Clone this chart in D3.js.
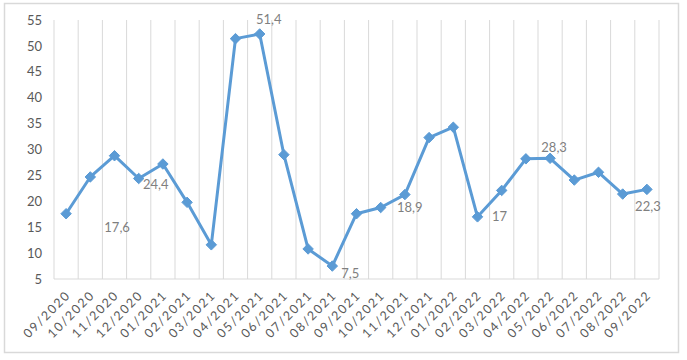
<!DOCTYPE html>
<html><head><meta charset="utf-8">
<script src="https://cdn.jsdelivr.net/npm/d3@7"></script>
<style>body{margin:0;background:#fff;} svg{display:block;}</style>
</head><body>
<svg id="chart" width="687" height="360"></svg>
<script>
const categories = ["09/2020","10/2020","11/2020","12/2020","01/2021","02/2021","03/2021","04/2021","05/2021","06/2021","07/2021","08/2021","09/2021","10/2021","11/2021","12/2021","01/2022","02/2022","03/2022","04/2022","05/2022","06/2022","07/2022","08/2022","09/2022"];
const values = [17.6,24.7,28.8,24.4,27.2,19.8,11.6,51.4,52.3,29.0,10.8,7.5,17.6,18.8,21.3,32.3,34.3,17.0,22.1,28.2,28.3,24.1,25.6,21.4,22.3];
const yTicks = [5,10,15,20,25,30,35,40,45,50,55];
const labelTexts = ["17,6","24,4","51,4","7,5","18,9","17","28,3","22,3"];
const labelPointIndex = [0,3,8,11,13,17,20,24];
const labelDx = [51,17,9,18,29,22,4,1];
const labelDy = [14,6,-15,7,0,0,-11,17];

const svg = d3.select("#chart");
const font = "Lato, 'Open Sans', sans-serif";
const textColor = "#595959";
const gridColor = "#d9d9d9";
const margin = {left:54, right:28, top:20, bottom:81};
const W = 687, H = 360;

svg.append("rect").attr("x",4.5).attr("y",3.5).attr("width",674).attr("height",349)
  .attr("fill","#fff").attr("stroke",gridColor).attr("stroke-width",1.5);

const x = d3.scaleBand().domain(categories).range([margin.left, W - margin.right]).paddingInner(0).paddingOuter(0);
const y = d3.scaleLinear().domain([5,55]).range([H - margin.bottom, margin.top]);

// vertical gridlines at category boundaries
const bounds = categories.map(c => x(c)).concat([x(categories[categories.length-1]) + x.bandwidth()]);
svg.append("g").selectAll("line").data(bounds).join("line")
  .attr("x1", d => d).attr("x2", d => d)
  .attr("y1", y(55)).attr("y2", y(5))
  .attr("stroke", gridColor).attr("stroke-width", 1);

// bottom axis line
svg.append("line").attr("x1", margin.left).attr("x2", W - margin.right)
  .attr("y1", y(5)).attr("y2", y(5)).attr("stroke", gridColor).attr("stroke-width", 1);

// y axis labels
const yAxis = d3.axisLeft(y).tickValues(yTicks).tickSize(0).tickPadding(12);
const gy = svg.append("g").attr("transform", `translate(${margin.left},0)`).call(yAxis);
gy.select(".domain").remove();
gy.selectAll("text").attr("font-family", font).attr("font-size", 13).attr("fill", textColor);

// x axis labels
const xAxis = d3.axisBottom(x).tickSize(0).tickPadding(0);
const gx = svg.append("g").attr("transform", `translate(0,${y(5)})`).call(xAxis);
gx.select(".domain").remove();
gx.selectAll("text")
  .attr("font-family", font).attr("font-size", 12.5).attr("fill", textColor)
  .attr("letter-spacing", "1.6px")
  .attr("text-anchor", "end").attr("dy", "0.35em")
  .attr("transform", "translate(2,14) rotate(-45)");

// line
const cx = c => x(c) + x.bandwidth()/2;
const line = d3.line().x((d,i) => cx(categories[i])).y(d => y(d));
svg.append("path").datum(values).attr("d", line)
  .attr("fill","none").attr("stroke","#5b9bd5").attr("stroke-width",3).attr("stroke-linejoin","round");

// markers
svg.append("g").selectAll("path").data(values).join("path")
  .attr("d", d3.symbol().type(d3.symbolDiamond2).size(70))
  .attr("transform", (d,i) => `translate(${cx(categories[i])},${y(d)})`)
  .attr("fill","#5b9bd5").attr("stroke","#5b9bd5").attr("stroke-width",1);

// data labels
svg.append("g").selectAll("text").data(labelTexts).join("text")
  .attr("x", (t,i) => cx(categories[labelPointIndex[i]]) + labelDx[i])
  .attr("y", (t,i) => y(values[labelPointIndex[i]]) + labelDy[i])
  .attr("dy","0.35em").attr("text-anchor","middle")
  .attr("font-family", font).attr("font-size", 13).attr("fill", "#7f7f7f")
  .text(t => t);
</script>
</body></html>
